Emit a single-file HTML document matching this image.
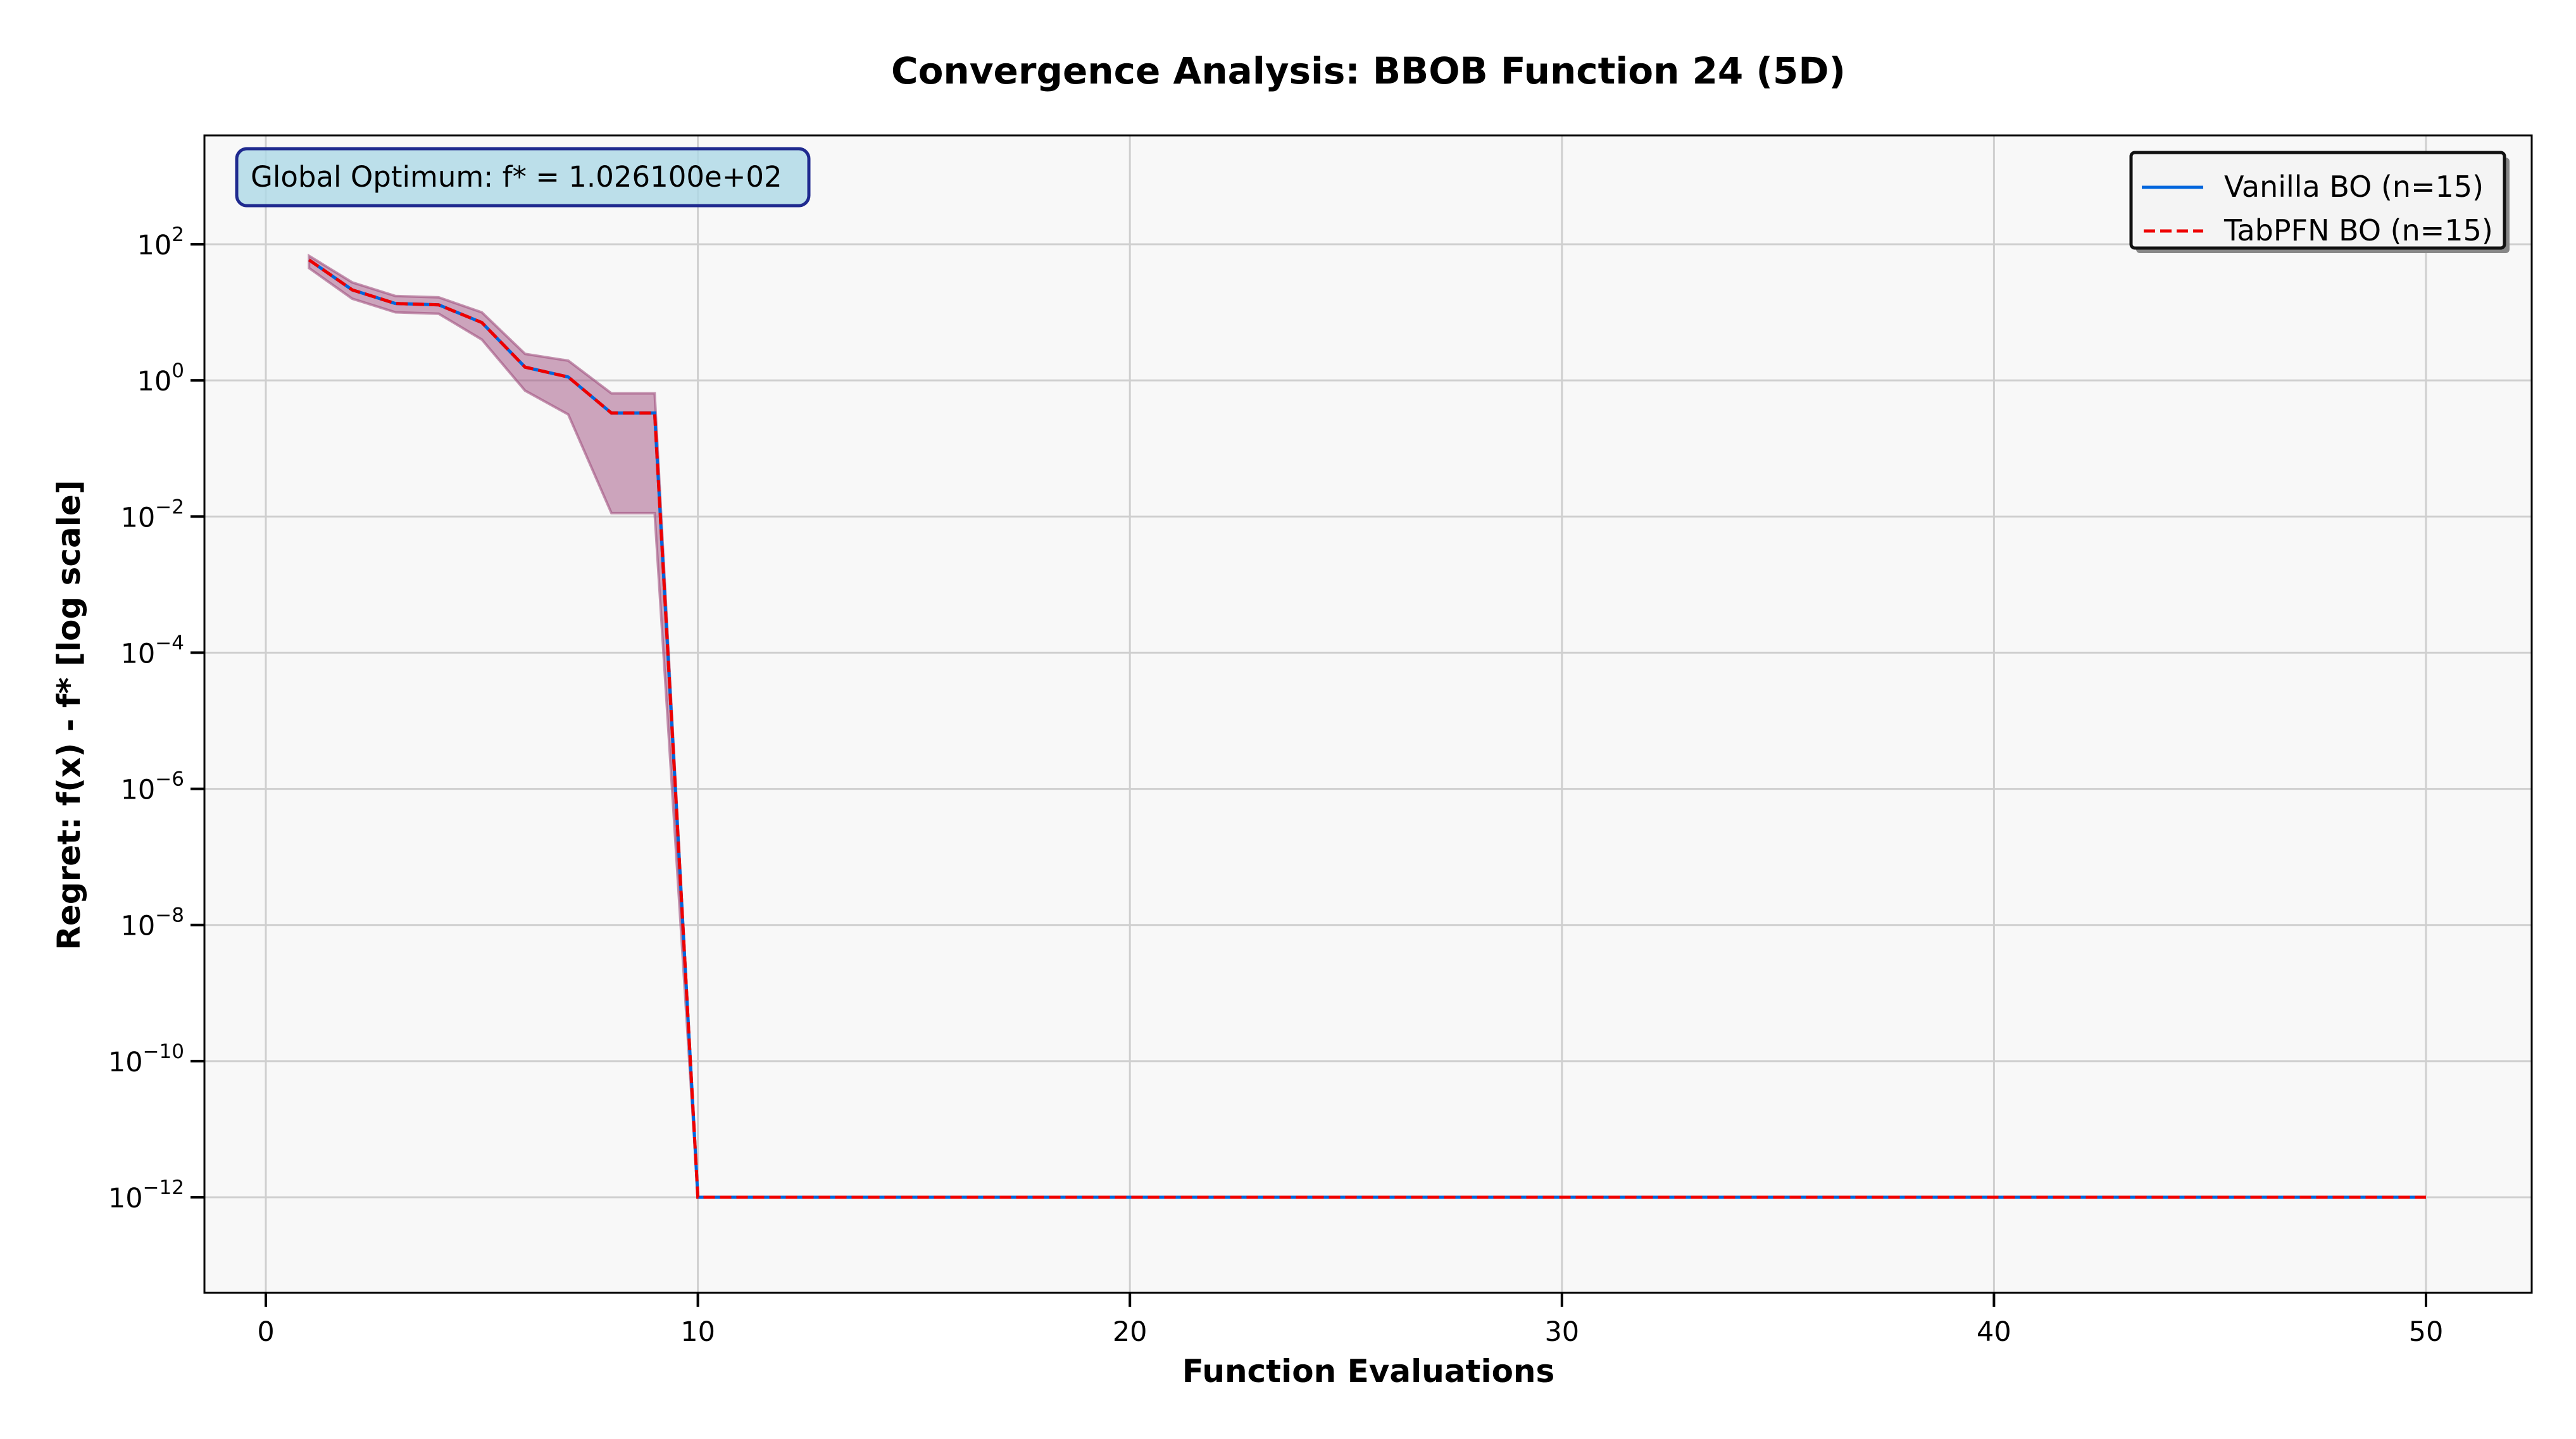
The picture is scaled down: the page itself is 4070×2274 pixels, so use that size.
<!DOCTYPE html>
<html><head><meta charset="utf-8"><style>
html,body{margin:0;padding:0;background:#fff;}
svg{display:block;font-family:"DejaVu Sans","Liberation Sans",sans-serif;}
</style></head><body>
<svg id="chart" width="4070" height="2274" viewBox="0 0 4070 2274">
<rect x="0" y="0" width="4070" height="2274" fill="#fff"/>
<text x="2162" y="132" text-anchor="middle" font-size="58" font-weight="bold">Convergence Analysis: BBOB Function 24 (5D)</text>
<rect x="323" y="214" width="3677" height="1829" fill="#f8f8f8"/>
<g id="grid"></g>
<g id="band"></g>
<g id="lines"></g>
<rect x="323" y="214" width="3677" height="1829" fill="none" stroke="#000" stroke-width="3"/>
<g id="ticks"></g>
<text x="2162" y="2184" text-anchor="middle" font-size="50" font-weight="bold">Function Evaluations</text>
<text transform="translate(126,1130) rotate(-90)" text-anchor="middle" font-size="50" font-weight="bold">Regret: f(x) - f* [log scale]</text>
<g>
<rect x="374" y="235" width="904" height="90" rx="16" fill="#add8e6" fill-opacity="0.8" stroke="#1f2a8f" stroke-width="5"/>
<text x="396" y="295" font-size="45">Global Optimum: f* = 1.026100e+02</text>
</g>
<g>
<rect x="3375" y="249" width="590" height="151" rx="6" fill="#888"/>
<rect x="3367" y="241" width="590" height="151" rx="6" fill="#f4f4f4" stroke="#111" stroke-width="5"/>
<line x1="3384" y1="296" x2="3481" y2="296" stroke="#0066dd" stroke-width="5"/>
<text x="3514" y="311" font-size="46">Vanilla BO (n=15)</text>
<line x1="3387" y1="365" x2="3481" y2="365" stroke="#ee0000" stroke-width="5" stroke-dasharray="18,8"/>
<text x="3514" y="380" font-size="46">TabPFN BO (n=15)</text>
</g>
</svg>
<script>
const xs = [1,2,3,4,5,6,7,8,9,10,50];
const vanillaLog = [1.77,1.33,1.13,1.11,0.85,0.195,0.05,-0.48,-0.48,-12,-12];
const tabpfnLog = [1.77,1.33,1.13,1.11,0.85,0.195,0.05,-0.48,-0.48,-12,-12];
const upperLog = [1.83,1.44,1.24,1.22,1.0,0.39,0.29,-0.19,-0.19,-12,-12];
const lowerLog = [1.65,1.2,1.0,0.98,0.6,-0.15,-0.5,-1.95,-1.95,-12,-12];
const xTicks = [0,10,20,30,40,50];
const yTickExps = [2,0,-2,-4,-6,-8,-10,-12];

const NS='http://www.w3.org/2000/svg';
const L=323,R=4000,T=214,B=2043;
const X0=420,X50=3833;
function sx(v){return X0+(X50-X0)*v/50;}
const Y2=386,Y12=1892;
function sy(lg){return Y2+(Y12-Y2)*(2-lg)/14;}
function mk(tag,attrs,parent){const e=document.createElementNS(NS,tag);for(const k in attrs)e.setAttribute(k,attrs[k]);parent.appendChild(e);return e;}
const grid=document.getElementById('grid'),ticks=document.getElementById('ticks');
xTicks.forEach(t=>{
  const g=mk('line',{x1:sx(t),x2:sx(t),y1:T,y2:B,stroke:'#cfcfcf','stroke-width':3},grid);
  
  
  const tk=mk('line',{x1:sx(t),x2:sx(t),y1:B,y2:B+22,stroke:'#000','stroke-width':4},ticks);
  
  
  const tl=mk('text',{x:sx(t),y:B+76,'text-anchor':'middle','font-size':43},ticks);
  tl.textContent=String(t);
  
  
});
yTickExps.forEach(e=>{
  const y=sy(e);
  const g=mk('line',{x1:L,x2:R,y1:y,y2:y,stroke:'#cfcfcf','stroke-width':3},grid);
  
  
  const tk=mk('line',{x1:L-22,x2:L,y1:y,y2:y,stroke:'#000','stroke-width':4},ticks);
  
  
  const tl=mk('text',{x:L-32,y:y+16,'text-anchor':'end','font-size':43},ticks);
  
  
  const base=mk('tspan',{},tl);base.textContent='10';
  const sup=mk('tspan',{dy:-21,'font-size':31},tl);sup.textContent=(e<0?'\u2212':'')+Math.abs(e);
});
let d='';
xs.forEach((x,i)=>{d+=(i?'L':'M')+sx(x)+','+sy(upperLog[i]);});
for(let i=xs.length-1;i>=0;i--)d+='L'+sx(xs[i])+','+sy(lowerLog[i]);
const band=mk('path',{d:d+'Z',fill:'#a0507f','fill-opacity':0.5,stroke:'#a0507f','stroke-opacity':0.6,'stroke-width':4},document.getElementById('band'));


function pts(arr){return xs.map((x,i)=>sx(x)+','+sy(arr[i])).join(' ');}
const lines=document.getElementById('lines');
const v=mk('polyline',{points:pts(vanillaLog),fill:'none',stroke:'#0066dd','stroke-width':5},lines);


const t=mk('polyline',{points:pts(tabpfnLog),fill:'none',stroke:'#ee0000','stroke-width':5,'stroke-dasharray':'18,8'},lines);


</script>
</body></html>
